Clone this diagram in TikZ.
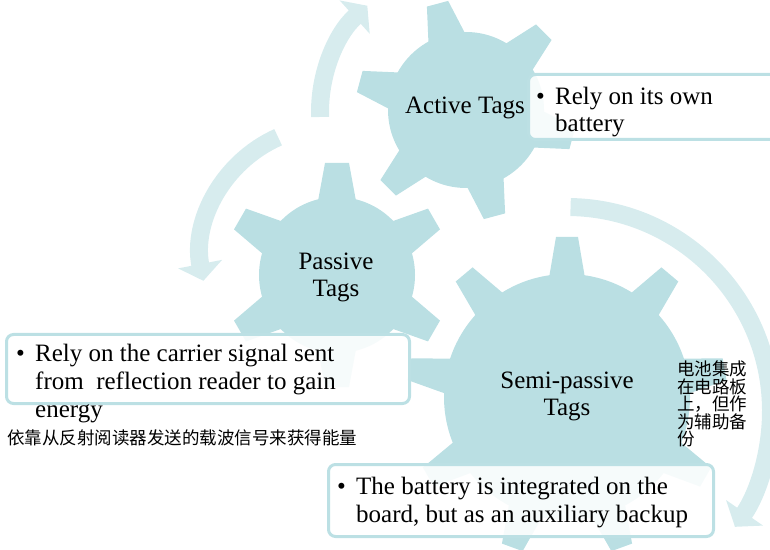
\documentclass[tikz,border=0pt]{standalone}
\usepackage{fontspec}
\setmainfont{Liberation Serif}
\newfontfamily\cjk{Noto Sans CJK SC}
\usetikzlibrary{arrows.meta}

\definecolor{gearblue}{HTML}{BADFE3}
\definecolor{arcblue}{HTML}{D7ECEE}
\definecolor{boxline}{HTML}{BCE0E4}

\newcommand\bul{\makebox[19pt][l]{\textbullet}}
\newcommand\ind{\hspace*{19pt}}

\tikzset{
  gear/.style={fill=gearblue},
  cyclearrow/.style={draw=arcblue, line width=18pt, -{Triangle[width=44pt,length=17pt]}},
  tagbox/.style={draw=boxline, line width=3pt, rounded corners=7pt, fill=white, fill opacity=0.88, anchor=north west, inner sep=0pt},
  tagtext/.style={font=\fontsize{25}{27.5}\selectfont, align=left, inner sep=0pt, anchor=base west},
  gearlabel/.style={font=\fontsize{25}{27}\selectfont, align=center, inner sep=0pt},
  cjktext/.style={font=\cjk\fontsize{17.5}{17.5}\selectfont, align=left, inner sep=0pt}
}

\begin{document}
\begin{tikzpicture}[x=1pt,y=1pt]
  \useasboundingbox (0,0) rectangle (770,549);
  \clip (0,0) rectangle (770,549);

  % centres
  \coordinate (ac) at (466,439);
  \coordinate (pc) at (337,274);
  \coordinate (sc) at (567,152);
  \coordinate (arc1) at (331,293);
  \coordinate (arc2) at (463,437);
  \coordinate (arc3) at (567,138);

  % cycle arrows
  \draw[cyclearrow] ([shift={(114:130pt)}]arc1) arc[start angle=114, end angle=191, radius=130pt];
  \draw[cyclearrow] ([shift={(182:143pt)}]arc2) arc[start angle=182, end angle=132, radius=143pt];
  \draw[cyclearrow] ([shift={(89:204pt)}]arc3) arc[start angle=89, end angle=-34.6, radius=204pt];

  % gears
  \fill[gear] (ac) circle (78pt);
  \foreach \a in {45,105,...,345}
    \fill[gear, shift={(ac)}, rotate=\a] (74,-19) -- (110,-11) -- (110,11) -- (74,19) -- cycle;
  \fill[gear] (pc) circle (78pt);
  \foreach \a in {30,90,...,330}
    \fill[gear, shift={(pc)}, rotate=\a] (74,-19) -- (112,-12) -- (112,12) -- (74,19) -- cycle;
  \fill[gear] (sc) circle (123pt);
  \foreach \a in {10,50,...,330}
    \fill[gear, shift={(sc)}, rotate=\a] (119,-18) -- (160,-11) -- (160,11) -- (119,18) -- cycle;

  % gear labels
  \node[gearlabel] (alabel) at (465,441) {Active Tags};
  \node[gearlabel] (plabel) at (336,272) {Passive\\Tags};
  \node[gearlabel] (slabel) at (567,153) {Semi-passive\\Tags};

  % boxes
  \node[tagbox, minimum width=263pt, minimum height=65pt] (abox) at (527,476) {};
  \node[tagbox, minimum width=403pt, minimum height=69pt] (pbox) at (5,216) {};
  \node[tagbox, minimum width=385pt, minimum height=72pt] (sbox) at (327,86) {};

  % box texts (anchored at the last line)
  \node[tagtext] (atext) at (536,417) {\bul Rely on its own\\\ind battery};
  \node[tagtext] (ptext) at (16,132) {\bul Rely on the carrier signal sent\\\ind from\ \ reflection reader to gain\\\ind energy};
  \node[tagtext] (stext) at (337,27) {\bul The battery is integrated on the\\\ind board, but as an auxiliary backup};

  % chinese notes
  \node[cjktext, anchor=west] (pnote) at (7,111) {依靠从反射阅读器发送的载波信号来获得能量};
  \node[cjktext, anchor=north west] (snote) at (677,188) {电池集成\\在电路板\\上，但作\\为辅助备\\份};
\end{tikzpicture}
\end{document}
